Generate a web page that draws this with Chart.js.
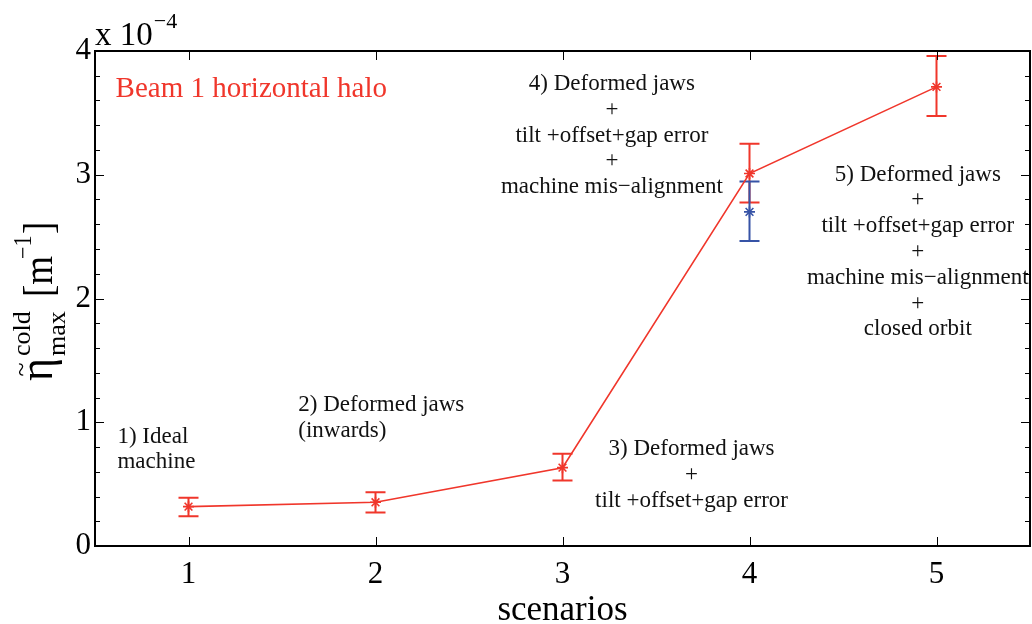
<!DOCTYPE html>
<html>
<head>
  <title>Cold losses per scenario</title>
  <script src="https://cdn.jsdelivr.net/npm/chart.js"></script>
  <style>
    body { margin: 0; background: #fff; }
    #wrap { width: 1032px; height: 624px; }
  </style>
</head>
<body>
  <div id="wrap"><canvas id="etaChart" width="1032" height="624"></canvas></div>

  <script>
    // values in units of 1e-4 m^-1
    const scenarios = [1, 2, 3, 4, 5];
    const etaB1 = [0.318, 0.353, 0.633, 3.01, 3.71];
    const etaB1Low = [0.24, 0.27, 0.53, 2.775, 3.475];
    const etaB1High = [0.39, 0.435, 0.745, 3.25, 3.96];

    // extra point at scenario 4
    const altX = [4];
    const altEta = [2.70];
    const altLow = [2.465];
    const altHigh = [2.945];

    const yTicks = [0, 1, 2, 3, 4];

    const RED = '#f0362b';
    const BLUE = '#3653a6';
    const INK = '#111';
    const SERIF = '"Liberation Serif", "DejaVu Serif", serif';

    // x, y = first baseline in data units
    const notes = [
      { x: 0.61, y: 3.63, align: 'left', size: 29, color: RED, lines: ['Beam 1 horizontal halo'] },
      { x: 0.62, y: 0.835, align: 'left', size: 23, color: INK, lines: ['1) Ideal', 'machine'] },
      { x: 1.587, y: 1.093, align: 'left', size: 23, color: INK, lines: ['2) Deformed jaws', '(inwards)'] },
      { x: 3.69, y: 0.735, align: 'center', size: 23, color: INK,
        lines: ['3) Deformed jaws', '+', 'tilt +offset+gap error'] },
      { x: 3.264, y: 3.685, align: 'center', size: 23, color: INK,
        lines: ['4) Deformed jaws', '+', 'tilt +offset+gap error', '+', 'machine mis\u2212alignment'] },
      { x: 4.90, y: 2.952, align: 'center', size: 23, color: INK,
        lines: ['5) Deformed jaws', '+', 'tilt +offset+gap error', '+', 'machine mis\u2212alignment', '+', 'closed orbit'] }
    ];

    const toPts = (xs, ys) => xs.map((x, i) => ({ x: x, y: ys[i] }));

    // text with glyphs stretched a little in height
    function tallText(ctx, t, x, y, size, stretch) {
      ctx.save();
      ctx.translate(x, y);
      ctx.scale(1, stretch);
      ctx.font = size + 'px ' + SERIF;
      ctx.fillText(t, 0, 0);
      ctx.restore();
    }

    // error bars, inward ticks, frame, notes and axis labels
    const decor = {
      id: 'decor',
      beforeDatasetsDraw(chart) {
        const ctx = chart.ctx;
        const xs = chart.scales.x, ys = chart.scales.y;
        const bars = [
          { xv: scenarios, lo: etaB1Low, hi: etaB1High, color: RED },
          { xv: altX, lo: altLow, hi: altHigh, color: BLUE }
        ];
        ctx.save();
        ctx.lineWidth = 2;
        bars.forEach(b => {
          ctx.strokeStyle = b.color;
          b.xv.forEach((xv, i) => {
            const px = xs.getPixelForValue(xv);
            const y1 = ys.getPixelForValue(b.lo[i]);
            const y2 = ys.getPixelForValue(b.hi[i]);
            ctx.beginPath();
            ctx.moveTo(px, y1); ctx.lineTo(px, y2);
            ctx.moveTo(px - 10, y1); ctx.lineTo(px + 10, y1);
            ctx.moveTo(px - 10, y2); ctx.lineTo(px + 10, y2);
            ctx.stroke();
          });
        });
        ctx.restore();
      },
      afterDraw(chart) {
        const ctx = chart.ctx;
        const a = chart.chartArea;
        const xs = chart.scales.x, ys = chart.scales.y;
        ctx.save();

        // frame
        ctx.strokeStyle = '#000';
        ctx.lineWidth = 2;
        ctx.strokeRect(a.left, a.top, a.right - a.left, a.bottom - a.top);

        // inward ticks
        ctx.lineWidth = 1;
        ctx.beginPath();
        scenarios.forEach(v => {
          const px = Math.round(xs.getPixelForValue(v)) + 0.5;
          ctx.moveTo(px, a.bottom); ctx.lineTo(px, a.bottom - 9);
          ctx.moveTo(px, a.top); ctx.lineTo(px, a.top + 9);
        });
        for (let k = 0; k <= 20; k++) {
          const v = k * 0.2;
          const len = k % 5 === 0 ? 9 : 5;
          const py = Math.round(ys.getPixelForValue(v)) + 0.5;
          ctx.moveTo(a.left, py); ctx.lineTo(a.left + len, py);
          ctx.moveTo(a.right, py); ctx.lineTo(a.right - len, py);
        }
        ctx.stroke();

        // notes
        notes.forEach(n => {
          ctx.font = n.size + 'px ' + SERIF;
          ctx.fillStyle = n.color;
          ctx.textAlign = n.align;
          ctx.textBaseline = 'alphabetic';
          const px = xs.getPixelForValue(n.x);
          let py = ys.getPixelForValue(n.y);
          n.lines.forEach(t => { ctx.fillText(t, px, py); py += 25.8; });
        });

        // exponent label
        ctx.fillStyle = '#000';
        ctx.textAlign = 'left';
        ctx.textBaseline = 'alphabetic';
        ctx.font = '33px ' + SERIF;
        ctx.fillText('x 10', a.left, 45);
        const w10 = ctx.measureText('x 10').width;
        ctx.font = '22px ' + SERIF;
        ctx.fillText('\u22124', a.left + w10 + 1, 28);

        // y axis title, rotated
        ctx.translate(52, 381);
        ctx.rotate(-Math.PI / 2);
        tallText(ctx, '\u03b7', 0, 0, 44, 1.1);
        ctx.font = '44px ' + SERIF;
        const wEta = ctx.measureText('\u03b7').width;
        ctx.textAlign = 'center';
        tallText(ctx, '~', wEta / 2, -23, 26, 1);
        ctx.textAlign = 'left';
        tallText(ctx, 'cold', 25, -22, 26, 1);
        tallText(ctx, 'max', 25, 13, 26, 1);
        tallText(ctx, '[m', 84, 0, 37, 1.15);
        tallText(ctx, '\u22121', 122, -21, 22, 1.1);
        tallText(ctx, ']', 147, 0, 37, 1.15);
        ctx.restore();
      }
    };

    new Chart(document.getElementById('etaChart').getContext('2d'), {
      type: 'line',
      data: {
        datasets: [{
          data: toPts(scenarios, etaB1),
          borderColor: RED,
          backgroundColor: RED,
          borderWidth: 1.6,
          pointStyle: 'star',
          pointRadius: 5.5,
          pointBorderWidth: 1.6,
          tension: 0
        }, {
          data: toPts(altX, altEta),
          borderColor: BLUE,
          backgroundColor: BLUE,
          showLine: false,
          pointStyle: 'star',
          pointRadius: 5.5,
          pointBorderWidth: 1.6
        }]
      },
      options: {
        responsive: false,
        animation: false,
        layout: { autoPadding: false, padding: { top: 51, right: 2, left: 0, bottom: 0 } },
        plugins: { legend: { display: false }, tooltip: { enabled: false } },
        scales: {
          x: {
            type: 'linear',
            min: 0.5,
            max: 5.5,
            afterBuildTicks: s => { s.ticks = scenarios.map(v => ({ value: v })); },
            afterFit: s => { s.height = 78; },
            grid: { display: false, drawTicks: false },
            border: { display: false },
            ticks: { color: '#000', padding: 10, font: { family: SERIF, size: 31 } },
            title: { display: true, text: 'scenarios', color: '#000', padding: { top: 0, bottom: -4 },
              font: { family: SERIF, size: 35, lineHeight: 1 } }
          },
          y: {
            min: 0,
            max: 4,
            afterBuildTicks: s => { s.ticks = yTicks.map(v => ({ value: v })); },
            afterFit: s => { s.width = 95; },
            grid: { display: false, drawTicks: false },
            border: { display: false },
            ticks: { color: '#000', padding: 4, font: { family: SERIF, size: 31 } }
          }
        }
      },
      plugins: [decor]
    });
  </script>
</body>
</html>
